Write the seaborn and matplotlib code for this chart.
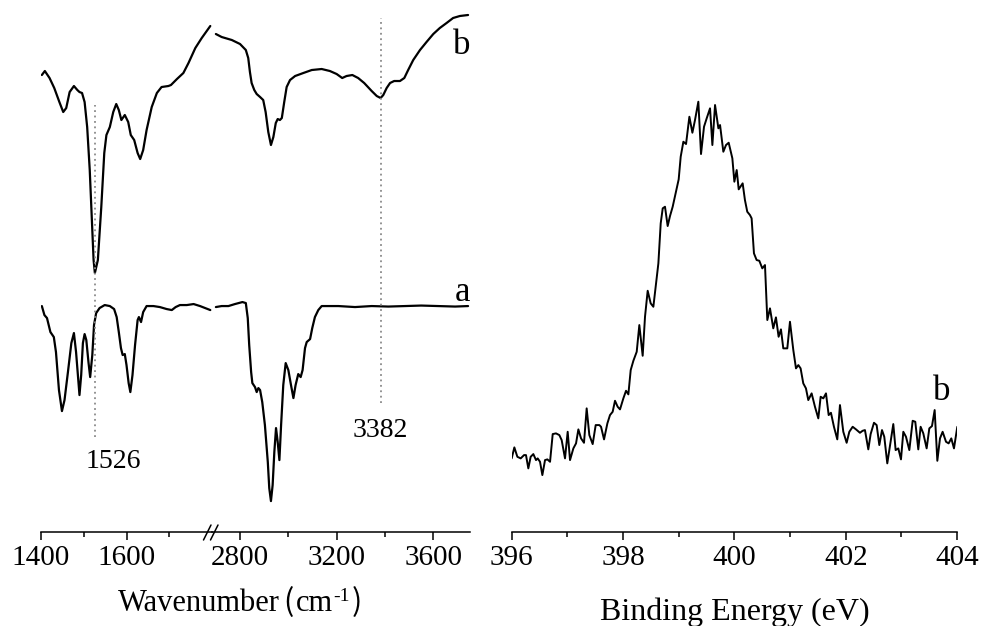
import matplotlib
matplotlib.use("Agg")
import matplotlib.pyplot as plt
from matplotlib.lines import Line2D
import seaborn as sns

# ---------------- FTIR spectra (transmittance, a.u.) ----------------
# sample b, 1400-1800 cm-1 window
ir_b_low_wn = [1402, 1409, 1420, 1431, 1443, 1452, 1459, 1467, 1477, 1485,
               1490, 1496, 1502, 1508, 1514, 1519, 1523, 1526, 1533, 1541,
               1548, 1553, 1561, 1569, 1576, 1582, 1588, 1596, 1604, 1610,
               1618, 1626, 1632, 1639, 1647, 1659, 1671, 1682, 1698, 1704,
               1718, 1733, 1745, 1761, 1776, 1796]
ir_b_low_t = [45.7, 46.1, 45.4, 44.4, 43.0, 42.0, 42.4, 44.0, 44.6, 44.2,
              44.0, 43.9, 43.0, 40.5, 36.2, 31.2, 27.2, 25.9, 27.2, 32.5,
              37.9, 39.7, 40.5, 42.0, 42.8, 42.2, 41.2, 41.7, 41.0, 39.7,
              39.2, 37.9, 37.3, 38.2, 40.2, 42.5, 43.9, 44.5, 44.6, 44.7,
              45.3, 45.9, 46.9, 48.4, 49.4, 50.6]

# sample b, 2700-3750 cm-1 window
ir_b_high_wn = [2700, 2724, 2766, 2800, 2824, 2834, 2841, 2848, 2859, 2869,
                2883, 2896, 2906, 2917, 2928, 2938, 2948, 2956, 2965, 2973,
                2983, 2993, 3007, 3028, 3062, 3097, 3138, 3172, 3200, 3223,
                3241, 3265, 3289, 3314, 3345, 3366, 3382, 3393, 3407, 3421,
                3438, 3462, 3480, 3496, 3517, 3545, 3572, 3600, 3627, 3655,
                3682, 3710, 3744]
ir_b_high_t = [49.8, 49.5, 49.2, 48.8, 48.2, 47.4, 46.0, 44.9, 44.2, 43.8,
               43.5, 43.2, 42.0, 40.0, 38.7, 39.5, 40.9, 41.3, 41.2, 41.4,
               43.0, 44.5, 45.2, 45.6, 45.9, 46.2, 46.3, 46.1, 45.8, 45.4,
               45.6, 45.7, 45.4, 44.9, 44.1, 43.6, 43.4, 43.7, 44.4, 44.9,
               45.1, 45.1, 45.4, 46.2, 47.2, 48.2, 49.0, 49.8, 50.4, 50.9,
               51.4, 51.6, 51.7]

# sample a, 1400-1800 cm-1 window
ir_a_low_wn = [1402, 1408, 1414, 1422, 1430, 1435, 1442, 1449, 1455, 1463,
               1471, 1477, 1482, 1490, 1494, 1498, 1502, 1506, 1511, 1515,
               1520, 1524, 1529, 1537, 1549, 1561, 1571, 1577, 1582, 1587,
               1591, 1596, 1600, 1605, 1609, 1614, 1620, 1626, 1629, 1634,
               1639, 1647, 1663, 1678, 1694, 1706, 1715, 1725, 1741, 1757,
               1772, 1784, 1796]
ir_a_low_t = [22.6, 21.7, 21.4, 20.0, 19.5, 18.0, 14.2, 12.1, 13.2, 16.0,
              18.9, 19.9, 18.0, 13.7, 15.7, 18.9, 19.8, 19.2, 17.0, 15.5,
              17.7, 20.7, 21.9, 22.4, 22.7, 22.6, 22.3, 21.5, 20.0, 18.4,
              17.7, 17.8, 16.7, 14.9, 14.0, 15.7, 18.7, 21.2, 21.5, 21.0,
              22.0, 22.6, 22.6, 22.5, 22.3, 22.2, 22.5, 22.7, 22.7, 22.8,
              22.6, 22.4, 22.2]

# sample a, 2700-3750 cm-1 window
ir_a_high_wn = [2700, 2724, 2752, 2779, 2810, 2824, 2832, 2838, 2846, 2851,
                2862, 2869, 2876, 2883, 2892, 2903, 2915, 2921, 2928, 2935,
                2942, 2949, 2956, 2963, 2970, 2979, 2989, 3000, 3011, 3021,
                3030, 3041, 3051, 3059, 3069, 3076, 3090, 3099, 3110, 3124,
                3138, 3207, 3276, 3345, 3414, 3483, 3550, 3620, 3690, 3744]
ir_a_high_t = [22.5, 22.6, 22.6, 22.8, 23.0, 22.9, 21.4, 18.7, 16.0, 14.9,
               14.5, 14.0, 14.4, 14.2, 13.0, 10.7, 7.0, 4.4, 3.1, 4.7,
               8.0, 10.4, 9.0, 7.2, 10.7, 14.7, 16.9, 16.2, 14.7, 13.4,
               14.7, 15.8, 15.5, 16.2, 18.4, 19.0, 19.3, 20.4, 21.5, 22.2,
               22.6, 22.6, 22.5, 22.6, 22.55, 22.6, 22.65, 22.6, 22.55, 22.6]

# marked bands
band_low = 1526
band_high = 3382

# ---------------- XPS N 1s (counts) ----------------
xps_be = [396.000, 396.048, 396.102, 396.162, 396.222, 396.257, 396.299, 396.341,
          396.389, 396.437, 396.467, 396.509, 396.551, 396.599, 396.641, 396.689,
          396.737, 396.796, 396.856, 396.898, 396.958, 397.006, 397.048, 397.108,
          397.156, 397.198, 397.246, 397.299, 397.347, 397.395, 397.455, 397.509,
          397.575, 397.605, 397.659, 397.719, 397.766, 397.814, 397.856, 397.904,
          397.946, 398.006, 398.054, 398.096, 398.138, 398.186, 398.246, 398.293,
          398.353, 398.395, 398.443, 398.497, 398.545, 398.587, 398.635, 398.677,
          398.713, 398.754, 398.802, 398.844, 398.892, 398.952, 399.000, 399.036,
          399.084, 399.132, 399.192, 399.246, 399.293, 399.353, 399.401, 399.455,
          399.503, 399.563, 399.605, 399.653, 399.713, 399.743, 399.802, 399.850,
          399.898, 399.964, 400.000, 400.042, 400.078, 400.149, 400.190, 400.232,
          400.280, 400.310, 400.352, 400.400, 400.448, 400.502, 400.550, 400.592,
          400.640, 400.699, 400.747, 400.795, 400.837, 400.879, 400.951, 400.999,
          401.059, 401.107, 401.149, 401.190, 401.238, 401.286, 401.328, 401.388,
          401.448, 401.508, 401.550, 401.598, 401.646, 401.694, 401.735, 401.789,
          401.849, 401.897, 401.957, 402.017, 402.065, 402.125, 402.185, 402.256,
          402.304, 402.346, 402.406, 402.448, 402.508, 402.556, 402.604, 402.652,
          402.693, 402.747, 402.801, 402.855, 402.897, 402.945, 402.993, 403.035,
          403.083, 403.143, 403.203, 403.250, 403.304, 403.346, 403.394, 403.454,
          403.502, 403.550, 403.598, 403.646, 403.694, 403.741, 403.802, 403.849,
          403.897, 403.945, 404.005]
xps_counts = [417, 527, 433, 417, 450, 450, 317, 433,
              460, 400, 417, 383, 250, 400, 407, 383,
              660, 667, 650, 600, 417, 683, 400, 517,
              567, 707, 617, 573, 917, 650, 560, 750,
              750, 733, 607, 767, 850, 883, 993, 933,
              907, 1017, 1093, 1057, 1300, 1393, 1483, 1750,
              1443, 1833, 2093, 1967, 1933, 2133, 2367, 2767,
              2917, 2933, 2740, 2840, 2933, 3083, 3207, 3433,
              3583, 3560, 3833, 3673, 3800, 3983, 3460, 3733,
              3817, 3917, 3550, 3950, 3717, 3750, 3483, 3550,
              3573, 3417, 3183, 3300, 3107, 3167, 3000, 2883,
              2850, 2817, 2467, 2400, 2393, 2317, 2350, 1800,
              1917, 1717, 1827, 1633, 1707, 1517, 1517, 1783,
              1500, 1317, 1350, 1317, 1167, 1117, 1000, 1067,
              933, 817, 1033, 1017, 1067, 850, 873, 733,
              607, 950, 683, 573, 683, 733, 707, 673,
              693, 700, 507, 660, 773, 750, 550, 700,
              633, 367, 567, 760, 500, 517, 407, 683,
              633, 500, 793, 783, 507, 733, 667, 517,
              717, 740, 900, 393, 617, 683, 583, 567,
              617, 517, 733]

low_major = [1400, 1600]
low_minor = [1500, 1700]
high_major = [2800, 3200, 3600]
high_minor = [3000, 3400]
xps_major = [396, 398, 400, 402, 404]
xps_minor = [397, 399, 401, 403]

sns.set_theme(style="white")
plt.rcParams["font.family"] = ["Liberation Serif", "Noto Sans CJK SC", "DejaVu Sans"]
plt.rcParams["text.color"] = "black"
plt.rcParams["xtick.color"] = "black"

fig = plt.figure(figsize=(9.84, 6.26), dpi=100)
ax_lo = fig.add_axes([0.04167, 0.150, 0.17378, 0.850])
ax_hi = fig.add_axes([0.21545, 0.150, 0.26220, 0.850])
ax_xps = fig.add_axes([0.52000, 0.150, 0.45260, 0.850])

line_kw = dict(color="black", linewidth=1.6, estimator=None, sort=False, legend=False)
sns.lineplot(x=ir_b_low_wn, y=ir_b_low_t, ax=ax_lo, **line_kw)
sns.lineplot(x=ir_a_low_wn, y=ir_a_low_t, ax=ax_lo, **line_kw)
sns.lineplot(x=ir_b_high_wn, y=ir_b_high_t, ax=ax_hi, **line_kw)
sns.lineplot(x=ir_a_high_wn, y=ir_a_high_t, ax=ax_hi, **line_kw)
sns.lineplot(x=xps_be, y=xps_counts, ax=ax_xps, color="black", linewidth=1.4,
             estimator=None, sort=False, legend=False)

ax_lo.set_xlim(1400, 1800)
ax_hi.set_xlim(2684, 3752)
for ax in (ax_lo, ax_hi):
    ax.set_ylim(0, 53.2)
ax_xps.set_xlim(396, 404)
ax_xps.set_ylim(-320, 5000)

# dotted guide lines at the marked bands
ax_lo.plot([band_low, band_low], [9.5, 42.7], linestyle=(0, (1, 2)),
           color="#8a8a8a", linewidth=1.3)
ax_hi.plot([band_high, band_high], [12.9, 51.4], linestyle=(0, (1, 2)),
           color="#8a8a8a", linewidth=1.3)

ax_lo.set_xticks(low_major)
ax_lo.set_xticks(low_minor, minor=True)
ax_hi.set_xticks(high_major)
ax_hi.set_xticks(high_minor, minor=True)
ax_xps.set_xticks(xps_major)
ax_xps.set_xticks(xps_minor, minor=True)

for ax in (ax_lo, ax_hi, ax_xps):
    for side in ("top", "left", "right"):
        ax.spines[side].set_visible(False)
    ax.spines["bottom"].set_linewidth(1.1)
    ax.spines["bottom"].set_color("black")
    ax.set_yticks([])
    ax.set_xlabel("")
    ax.set_ylabel("")
    ax.patch.set_alpha(0)
    ax.tick_params(axis="x", which="major", direction="out", length=6, width=1.1,
                   color="black", pad=3, labelsize=21, labelcolor="black", bottom=True)
    ax.tick_params(axis="x", which="minor", direction="out", length=3.5, width=1.1,
                   color="black", bottom=True)

# text annotations
ax_hi.text(3752, 47.8, "b", ha="right", va="baseline", fontsize=25)
ax_hi.text(3752, 23.1, "a", ha="right", va="baseline", fontsize=25)
ax_lo.text(1505, 6.4, "1526", ha="left", va="baseline", fontsize=20)
ax_hi.text(band_high, 9.5, "3382", ha="center", va="baseline", fontsize=20)
ax_xps.text(403.72, 1000, "b", ha="center", va="baseline", fontsize=25)

# axis-break marks on the wavenumber axis
W, H = 984.0, 626.0
for x0 in (203.5, 210.5):
    fig.add_artist(Line2D([x0 / W, (x0 + 7.5) / W], [1 - 540 / H, 1 - 525 / H],
                          color="black", linewidth=1.1))

# x-axis titles; the wavenumber title is assembled from pieces so the
# light brackets and the superscript can each use their own font.
# Each piece: text, font size, baseline rise (px), gap before it (px), family
base_y = 1 - 611 / H
bracket_font = ["Noto Sans CJK SC", "DejaVu Sans"]
serif_font = ["Liberation Serif", "DejaVu Serif"]
parts = [("Wavenumber", 22, 0.0, 0.0, serif_font),
         ("(", 22, 0.0, 4.0, bracket_font),
         ("cm", 22, 0.0, 2.0, serif_font),
         ("-1", 14, 10.0, 0.0, serif_font),
         (")", 22, 0.0, 2.0, bracket_font)]
renderer = fig.canvas.get_renderer()
pieces = []
for txt, size, rise, _, fam in parts:
    t = fig.text(0, base_y + rise / H, txt, ha="left", va="baseline",
                 fontsize=size, family=fam)
    pieces.append(t)
widths = [p.get_window_extent(renderer).width for p in pieces]
gaps = [part[3] for part in parts]
total = sum(widths) + sum(gaps)
x_cur = 240 - total / 2
for p, w, g in zip(pieces, widths, gaps):
    x_cur += g
    p.set_x(x_cur / W)
    x_cur += w

fig.text(735 / W, 1 - 620 / H, "Binding Energy (eV)", ha="center",
         va="baseline", fontsize=23)

fig.savefig("out.png", dpi=100)
